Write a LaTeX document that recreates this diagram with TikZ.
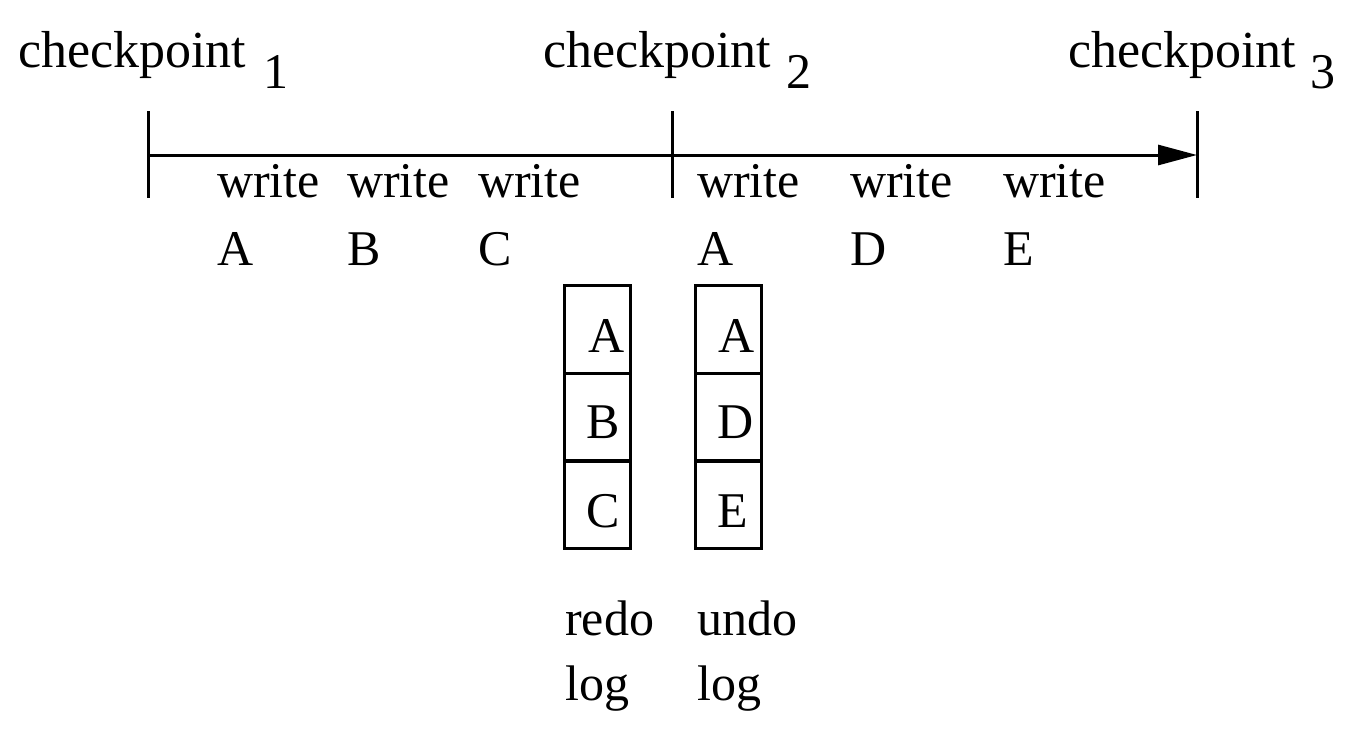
\documentclass[tikz,border=0pt]{standalone}
\usepackage{fontspec}
\setmainfont{Liberation Serif}
\usetikzlibrary{arrows.meta}
\begin{document}
\begin{tikzpicture}[x=1pt,y=-1pt,
 lbl/.style={anchor=base west,inner sep=0pt,font=\fontsize{50}{60}\selectfont},
 cplbl/.style={lbl,font=\fontsize{52}{62}\selectfont},
 cell/.style={draw,line width=3pt,minimum width=66pt,minimum height=88pt,inner sep=0pt},
 ln/.style={line width=3pt}]
\useasboundingbox (0,0) rectangle (1363,732);
% timeline
\coordinate (t0) at (148,155);
\coordinate (t3) at (1197,155);
\draw[ln,-{Triangle[length=39pt,width=20pt]}] (t0) -- (t3);
\coordinate (k1a) at (148,111); \coordinate (k1b) at (148,198);
\coordinate (k2a) at (672,111); \coordinate (k2b) at (672,198);
\coordinate (k3a) at (1197,111); \coordinate (k3b) at (1197,198);
\draw[ln] (k1a) -- (k1b);
\draw[ln] (k2a) -- (k2b);
\draw[ln] (k3a) -- (k3b);
% checkpoints
\node[cplbl] (cp1) at (18,67) {checkpoint};
\node[lbl] (cp1s) at (263,88) {1};
\node[cplbl] (cp2) at (543,67) {checkpoint};
\node[lbl] (cp2s) at (786,88) {2};
\node[cplbl] (cp3) at (1068,67) {checkpoint};
\node[lbl] (cp3s) at (1310,88) {3};
% writes
\node[lbl] (w1) at (217,197) {write};
\node[lbl] (w2) at (347,197) {write};
\node[lbl] (w3) at (478,197) {write};
\node[lbl] (w4) at (697,197) {write};
\node[lbl] (w5) at (850,197) {write};
\node[lbl] (w6) at (1003,197) {write};
\node[lbl] (v1) at (217,265) {A};
\node[lbl] (v2) at (347,265) {B};
\node[lbl] (v3) at (478,265) {C};
\node[lbl] (v4) at (697,265) {A};
\node[lbl] (v5) at (850,265) {D};
\node[lbl] (v6) at (1003,265) {E};
% redo log
\node[cell] (r1) at (597,329) {};
\node[cell] (r2) at (597,417) {};
\node[cell] (r3) at (597,504.5) {};
\node[lbl] (rA) at (588,352) {A};
\node[lbl] (rB) at (586,438) {B};
\node[lbl] (rC) at (586,527) {C};
% undo log
\node[cell] (u1) at (728.5,329) {};
\node[cell] (u2) at (728.5,417) {};
\node[cell] (u3) at (728.5,504.5) {};
\node[lbl] (uA) at (718,352) {A};
\node[lbl] (uD) at (717,438) {D};
\node[lbl] (uE) at (717,527) {E};
% labels
\node[lbl] (redo) at (565,635) {redo};
\node[lbl] (rlog) at (565,700) {log};
\node[lbl] (undo) at (697,635) {undo};
\node[lbl] (ulog) at (697,700) {log};
\end{tikzpicture}
\end{document}
